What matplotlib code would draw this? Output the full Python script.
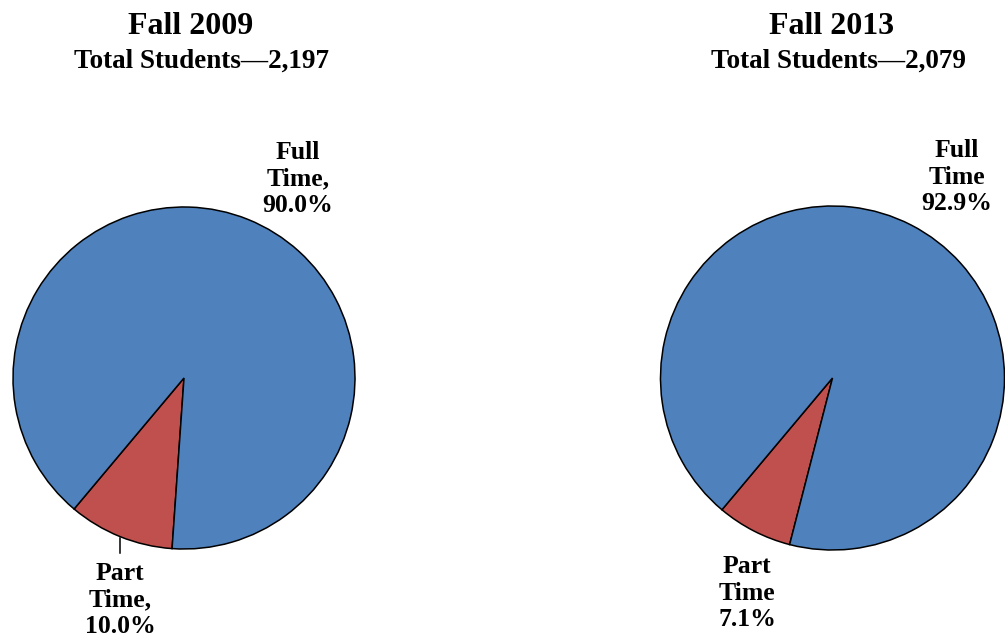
"""
Enrollment status pies: full-time vs part-time students, Fall 2009 and Fall 2013
"""

import matplotlib
matplotlib.use('Agg')
import matplotlib.pyplot as plt

# data
status = ['Part Time', 'Full Time']
share_2009 = [10.0, 90.0]
share_2013 = [7.1, 92.9]
titles = ['Fall 2009', 'Fall 2013']
subtitles = ['Total Students\u20142,197', 'Total Students\u20142,079']
full_labels = ['Full\nTime,\n90.0%', 'Full\nTime\n92.9%']
part_labels = ['Part\nTime,\n10.0%', 'Part\nTime\n7.1%']

colors = ['#C0504D', '#4F81BD']

W, H = 1005, 642
fig = plt.figure(figsize=(W / 100, H / 100), dpi=100)
ax = fig.add_axes([0, 0, 1, 1])
ax.set_xlim(0, W)
ax.set_ylim(0, H)
ax.set_aspect('equal')
ax.axis('off')

plt.rcParams['font.family'] = ['Liberation Serif', 'DejaVu Serif']

# layout (pixel units, y measured from top)
centers = [(184, 378), (832.5, 378)]
radii = [171, 172]
title_x = [191, 832]
sub_x = [201, 839]
full_pos = [(298, 179), (957, 177)]
part_pos = [(120, 600), (747, 593)]

for i, shares in enumerate([share_2009, share_2013]):
    cx, cy = centers[i]
    ax.pie(shares, colors=colors, startangle=230, counterclock=True,
           center=(cx, H - cy), radius=radii[i],
           wedgeprops=dict(edgecolor='black', linewidth=1.1))

    ax.text(title_x[i], H - 27, titles[i], ha='center', va='center',
            fontsize=23, fontweight='bold')
    ax.text(sub_x[i], H - 68, subtitles[i], ha='center', va='baseline',
            fontsize=19.5, fontweight='bold')

    fx, fy = full_pos[i]
    ax.text(fx, H - fy, full_labels[i], ha='center', va='center',
            fontsize=18.5, fontweight='bold', linespacing=1.2)
    px, py = part_pos[i]
    ax.text(px, H - py, part_labels[i], ha='center', va='center',
            fontsize=18.5, fontweight='bold', linespacing=1.2)

# leader line for the small 2009 slice
ax.plot([119.5, 119.5], [H - 538, H - 553], color='black', linewidth=1.1)

ax.set_xlim(0, W)
ax.set_ylim(0, H)
fig.savefig('out.png', dpi=100)
